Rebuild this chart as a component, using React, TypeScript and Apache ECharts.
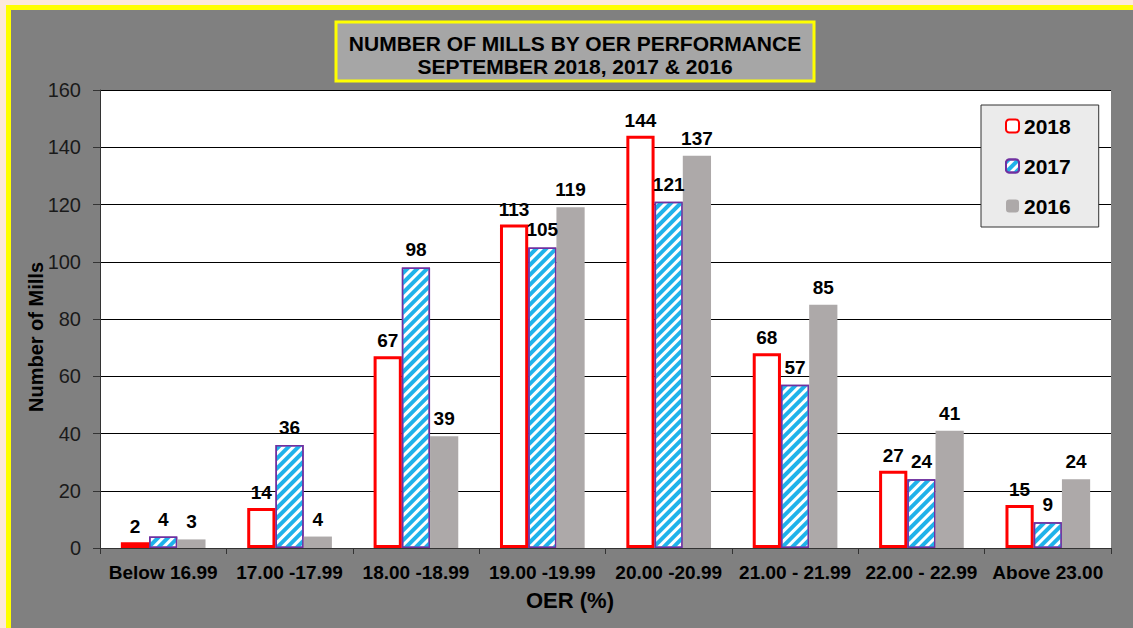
import React, { useEffect, useRef } from "react";
import * as echarts from "echarts";

const categories = [
  "Below 16.99",
  "17.00 -17.99",
  "18.00 -18.99",
  "19.00 -19.99",
  "20.00 -20.99",
  "21.00 - 21.99",
  "22.00 - 22.99",
  "Above 23.00",
];
const values2018 = [2, 14, 67, 113, 144, 68, 27, 15];
const values2017 = [4, 36, 98, 105, 121, 57, 24, 9];
const values2016 = [3, 4, 39, 119, 137, 85, 41, 24];
const yTicks = [0, 20, 40, 60, 80, 100, 120, 140, 160];
const titleLines = ["NUMBER OF MILLS BY OER PERFORMANCE", "SEPTEMBER 2018, 2017 & 2016"];
const yAxisTitle = "Number of Mills";
const xAxisTitle = "OER (%)";

const FONT = "Arial, 'Liberation Sans', sans-serif";

export default function App() {
  const ref = useRef<HTMLDivElement>(null);
  useEffect(() => {
    if (!ref.current) return;
    const chart = echarts.init(ref.current, undefined, { renderer: "svg" });
    const makeLabel = (distance: number) => ({
      show: true,
      position: "top" as const,
      distance,
      color: "#000",
      fontWeight: "bold" as const,
      fontSize: 19,
      fontFamily: FONT,
    });
    chart.setOption({
      animation: false,
      backgroundColor: "transparent",
      graphic: [
        {
          type: "rect",
          shape: { x: 336, y: 22, width: 478, height: 59 },
          style: { fill: "#A6A6A6", stroke: "#FFFF00", lineWidth: 3 },
          z: 10,
        },
        {
          type: "text",
          x: 575,
          y: 43,
          style: {
            text: titleLines[0],
            fill: "#000",
            font: `bold 21px ${FONT}`,
            textAlign: "center",
            textVerticalAlign: "middle",
          },
          z: 11,
        },
        {
          type: "text",
          x: 575,
          y: 66,
          style: {
            text: titleLines[1],
            fill: "#000",
            font: `bold 21px ${FONT}`,
            textAlign: "center",
            textVerticalAlign: "middle",
          },
          z: 11,
        },
        {
          type: "text",
          x: 36,
          y: 337,
          rotation: Math.PI / 2,
          style: {
            text: yAxisTitle,
            fill: "#000",
            font: `bold 20px ${FONT}`,
            textAlign: "center",
            textVerticalAlign: "middle",
          },
          z: 11,
        },
        {
          type: "text",
          x: 570,
          y: 600,
          style: {
            text: xAxisTitle,
            fill: "#000",
            font: `bold 22px ${FONT}`,
            textAlign: "center",
            textVerticalAlign: "middle",
          },
          z: 11,
        },
      ],
      legend: {
        orient: "vertical",
        left: 981,
        top: 105,
        backgroundColor: "#EBEBEB",
        borderColor: "#333",
        borderWidth: 1,
        borderRadius: 0,
        padding: [9, 28, 9, 24],
        itemWidth: 13,
        itemHeight: 13,
        itemGap: 16,
        textStyle: {
          color: "#000",
          fontWeight: "bold",
          fontSize: 21,
          fontFamily: FONT,
          lineHeight: 24,
        },
        data: ["2018", "2017", "2016"],
      },
      grid: {
        left: 100,
        right: 1133 - 1111,
        top: 90,
        bottom: 628 - 548,
        show: true,
        backgroundColor: "#FFFFFF",
        borderWidth: 0,
      },
      xAxis: {
        type: "category",
        data: categories,
        axisLine: { lineStyle: { color: "#333", width: 1 } },
        axisTick: { show: true, length: 6, lineStyle: { color: "#333" } },
        axisLabel: {
          color: "#000",
          fontWeight: "bold",
          fontSize: 19,
          fontFamily: FONT,
          margin: 15,
          interval: 0,
        },
      },
      yAxis: {
        type: "value",
        min: yTicks[0],
        max: yTicks[yTicks.length - 1],
        interval: 20,
        axisLine: { show: true, lineStyle: { color: "#333", width: 1 } },
        axisTick: { show: true, length: 7, lineStyle: { color: "#333" } },
        axisLabel: { color: "#1a1a1a", fontSize: 20, fontFamily: FONT, margin: 19 },
        splitLine: { show: true, lineStyle: { color: "#000", width: 1 } },
      },
      series: [
        {
          name: "2018",
          type: "bar",
          data: values2018,
          barGap: "0%",
          barCategoryGap: "33%",
          itemStyle: { color: "#FFFFFF", borderColor: "#FF0000", borderWidth: 3 },
          label: makeLabel(6),
        },
        {
          name: "2017",
          type: "bar",
          data: values2017,
          barGap: "0%",
          barCategoryGap: "33%",
          itemStyle: {
            color: "#FFFFFF",
            borderColor: "#7030A0",
            borderWidth: 1.5,
            decal: {
              symbol: "rect",
              color: "#1FB2EA",
              dashArrayX: [1, 0],
              dashArrayY: [4, 3],
              rotation: -Math.PI / 4,
              symbolSize: 1,
            },
          },
          label: makeLabel(8),
        },
        {
          name: "2016",
          type: "bar",
          data: values2016,
          barGap: "0%",
          barCategoryGap: "33%",
          itemStyle: { color: "#ADA9A9" },
          label: makeLabel(8),
        },
      ],
    });
    return () => chart.dispose();
  }, []);

  return (
    <div
      style={{
        position: "absolute",
        left: 0,
        top: 0,
        width: 1133,
        height: 628,
        overflow: "hidden",
        background: "#FCE9DB",
      }}
    >
      <div
        style={{
          position: "absolute",
          left: 6,
          top: 5,
          width: 1160,
          height: 660,
          boxSizing: "border-box",
          border: "5px solid #FFFF00",
          background: "#808080",
        }}
      />
      <div
        ref={ref}
        style={{ position: "absolute", left: 0, top: 0, width: 1133, height: 628 }}
      />
    </div>
  );
}
